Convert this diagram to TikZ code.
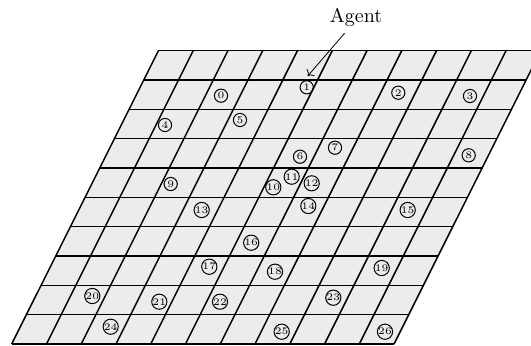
\documentclass[tikz,border=0pt]{standalone}
\usetikzlibrary{arrows.meta}

\begin{document}
\begin{tikzpicture}[x=0.5pt,y=-0.5pt,
    cell/.style={draw=black, line width=0.75pt},
    spot/.style={draw, circle, line width=0.5pt, inner sep=0pt, minimum size=6.6pt,
                 font=\fontsize{5}{5}\selectfont}]
  \useasboundingbox (0,0) rectangle (531,345);
  \clip (0,0) rectangle (531,345);
  % board
  \fill[gray!15] (11.7,344) -- ++(382.4,0) -- ++(146.7,-293.3) -- ++(-382.4,0) -- cycle;
  \foreach \r in {0,...,10}
    \draw[cell] ({11.7+14.67*\r},{344-29.33*\r}) -- ++(382.4,0);
  \foreach \c in {0,...,11}
    \draw[cell] ({11.7+34.76*\c},344) -- ++(146.7,-293.3);
  % objects
  \foreach \i/\x/\y in {0/221/95.7, 1/306.7/87.3, 2/398.3/92.7, 3/470/96,
      4/165/125, 5/240/120, 6/300/156.7, 7/335/147.7, 8/468.7/155.3,
      9/170.7/184, 10/273.3/187.3, 11/291.7/176.7, 12/311.7/183.3,
      13/201.7/210, 14/308.3/206, 15/407.7/210, 16/251.2/242.7,
      17/209.3/266.7, 18/275/271.7, 19/381.7/268, 20/92.3/296,
      21/159.3/301.7, 22/220/301.7, 23/333.3/297.7, 24/110.7/326.7,
      25/281.7/331.7, 26/385/331.7}
    \node[spot] (n\i) at (\x,\y) {\i};
  % agent
  \node (agent) at (356,17) {Agent};
  \coordinate (tip) at (307.7,76);
  \draw[->] (agent.235) -- (tip);
\end{tikzpicture}
\end{document}
